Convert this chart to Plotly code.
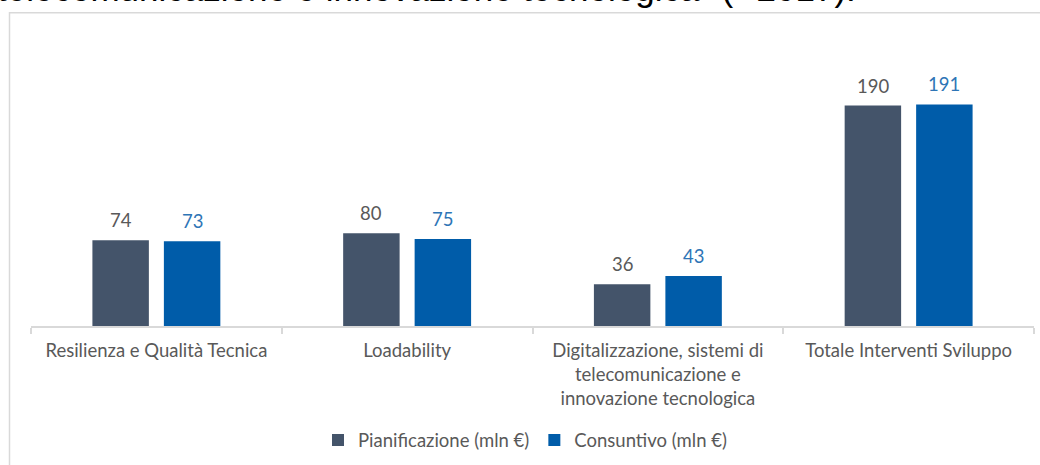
import plotly.graph_objects as go

categories = [
    "Resilienza e Qualità Tecnica",
    "Loadability",
    "Digitalizzazione, sistemi di<br>telecomunicazione e<br>innovazione tecnologica",
    "Totale Interventi Sviluppo",
]
pianificazione = [74, 80, 36, 190]
consuntivo = [73, 75, 43, 191]
series_names = ["Pianificazione (mln €)", "Consuntivo (mln €)"]
label_pian = ["74", "80", "36", "190"]
label_cons = ["73", "75", "43", "191"]
title_fragment = 'telecomunicazione e innovazione tecnologica" (* 2017).'

C_DARK = "#44546A"
C_BLUE = "#005CA9"
FONT = "Lato"
FS = 18.5

W, H = 1040, 465
ML, MR, MT, MB = 31, 6, 36, 135
PW, PH = W - ML - MR, H - MT - MB

BARGAP = 0.43
GROUPGAP = 0.21

fig = go.Figure()
fig.add_trace(go.Bar(x=categories, y=pianificazione, name=series_names[0],
                     marker=dict(color=C_DARK, line=dict(width=0))))
fig.add_trace(go.Bar(x=categories, y=consuntivo, name=series_names[1],
                     marker=dict(color=C_BLUE, line=dict(width=0))))

annotations = []
off = (1 - BARGAP) / 4
for i, (a, b) in enumerate(zip(pianificazione, consuntivo)):
    annotations.append(dict(x=i - off, y=a, xref="x", yref="y", text=label_pian[i],
                            showarrow=False, yanchor="middle", yshift=20,
                            font=dict(family=FONT, size=FS, color="#595959")))
    annotations.append(dict(x=i + off, y=b, xref="x", yref="y", text=label_cons[i],
                            showarrow=False, yanchor="middle", yshift=20,
                            font=dict(family=FONT, size=FS, color="#2E75B6")))

def px_x(p):
    return (p - ML) / PW

def px_y(p):
    return (H - MB - p) / PH

annotations.append(dict(
    x=px_x(858), y=px_y(-12), xref="paper", yref="paper", xanchor="right", yanchor="middle",
    text=title_fragment, showarrow=False,
    font=dict(family="Liberation Sans", size=35, color="#000000")))

shapes = [dict(type="rect", xref="paper", yref="paper",
               x0=px_x(9.5), x1=px_x(1200), y0=px_y(12.5), y1=px_y(600),
               line=dict(color="#D9D9D9", width=1.5), fillcolor="rgba(0,0,0,0)", layer="below")]

fig.update_layout(
    width=W, height=H,
    margin=dict(l=ML, r=MR, t=MT, b=MB, pad=0),
    paper_bgcolor="white", plot_bgcolor="white",
    barmode="group", bargap=BARGAP, bargroupgap=GROUPGAP,
    showlegend=True,
    legend=dict(orientation="h", x=px_x(318), xanchor="left", y=px_y(446), yanchor="middle",
                font=dict(family=FONT, size=FS, color="#595959"), traceorder="normal",
                itemwidth=30, bgcolor="rgba(0,0,0,0)"),
    annotations=annotations,
    shapes=shapes,
    xaxis=dict(showline=True, linecolor="#D9D9D9", linewidth=1.5, ticks="outside",
               tickson="boundaries", ticklen=6, tickcolor="#D9D9D9", tickwidth=1.5,
               ticklabelstandoff=7,
               tickfont=dict(family=FONT, size=FS, color="#595959"), showgrid=False,
               fixedrange=True),
    yaxis=dict(range=[0, 250], visible=False, showgrid=False, zeroline=False),
    font=dict(family=FONT),
)

fig.write_html("out.html", config={"displayModeBar": False},
               post_script="document.body.style.margin='0';")
